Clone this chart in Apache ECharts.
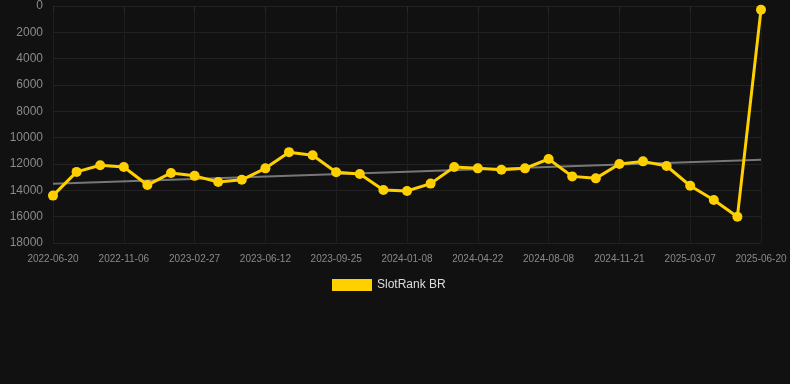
<!DOCTYPE html>
<html>
<head>
<meta charset="utf-8">
<script src="https://cdn.jsdelivr.net/npm/echarts@6/dist/echarts.min.js"></script>
<style>
  html, body { margin: 0; padding: 0; background: #111111; }
  #chart { width: 790px; height: 384px; }
</style>
</head>
<body>
<div id="chart"></div>
<script>
// dates (only every 3rd one is labelled on the axis)
var dates = [
  '2022-06-20', '2022-08-05', '2022-09-21', '2022-11-06', '2022-12-14', '2023-01-20',
  '2023-02-27', '2023-04-03', '2023-05-08', '2023-06-12', '2023-07-17', '2023-08-21',
  '2023-09-25', '2023-10-30', '2023-12-04', '2024-01-08', '2024-02-12', '2024-03-18',
  '2024-04-22', '2024-05-28', '2024-07-03', '2024-08-08', '2024-09-12', '2024-10-17',
  '2024-11-21', '2024-12-26', '2025-01-30', '2025-03-07', '2025-04-11', '2025-05-16',
  '2025-06-20'
];

// rank values
var rankBR = [
  14400, 12600, 12100, 12230, 13600, 12680, 12900, 13370, 13200, 12330, 11100,
  11340, 12630, 12760, 13970, 14050, 13490, 12230, 12330, 12430, 12330, 11620,
  12940, 13090, 12000, 11800, 12150, 13650, 14730, 16000, 280
];

// trend line end points
var trendStart = 13500;
var trendEnd = 11670;

var yTicks = { min: 0, max: 18000, interval: 2000 };

var trendData = dates.map(function (d, i) {
  if (i === 0) return trendStart;
  if (i === dates.length - 1) return trendEnd;
  return null;
});

var chart = echarts.init(document.getElementById('chart'));

var option = {
  backgroundColor: '#111111',
  animation: false,
  grid: {
    left: 53,
    right: 29,
    top: 6,
    bottom: 141
  },
  legend: {
    data: ['SlotRank BR'],
    bottom: 88,
    left: 327,
    itemWidth: 40,
    itemHeight: 12,
    itemGap: 10,
    icon: 'rect',
    textStyle: { color: '#dddddd', fontSize: 12, fontFamily: 'Liberation Sans, Arial, sans-serif' }
  },
  xAxis: {
    type: 'category',
    boundaryGap: false,
    data: dates,
    axisLine: { show: false },
    axisTick: {
      show: true,
      interval: 2,
      length: 5,
      lineStyle: { color: '#2a2a2a' }
    },
    splitLine: {
      show: true,
      interval: 2,
      lineStyle: { color: '#1e1e1e' }
    },
    axisLabel: {
      interval: 2,
      color: '#8a8a8a',
      fontSize: 10,
      margin: 11,
      fontFamily: 'Liberation Sans, Arial, sans-serif'
    }
  },
  yAxis: {
    type: 'value',
    inverse: true,
    min: yTicks.min,
    max: yTicks.max,
    interval: yTicks.interval,
    axisLine: { show: false },
    axisTick: { show: false },
    splitLine: { lineStyle: { color: '#222222' } },
    axisLabel: {
      color: '#8a8a8a',
      fontSize: 12,
      margin: 10,
      fontFamily: 'Liberation Sans, Arial, sans-serif',
      formatter: function (v) { return String(v); }
    }
  },
  series: [
    {
      name: 'trend',
      type: 'line',
      data: trendData,
      connectNulls: true,
      showSymbol: false,
      symbol: 'none',
      silent: true,
      lineStyle: { color: '#777777', width: 2 },
      z: 1
    },
    {
      name: 'SlotRank BR',
      type: 'line',
      data: rankBR,
      symbol: 'circle',
      symbolSize: 10,
      color: '#ffd000',
      lineStyle: { color: '#ffd000', width: 3 },
      itemStyle: { color: '#ffd000' },
      z: 2
    }
  ]
};

chart.setOption(option);
</script>
</body>
</html>
